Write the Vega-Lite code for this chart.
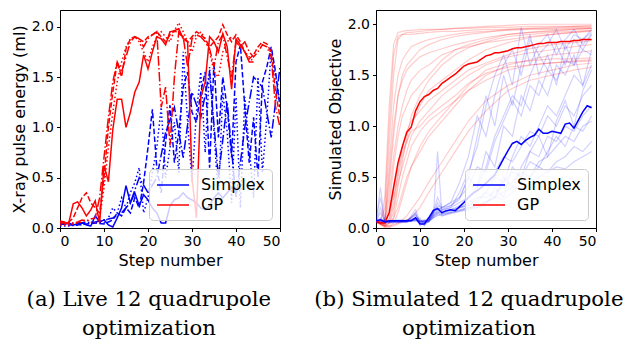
{
"$schema":"https://vega.github.io/schema/vega-lite/v6.json",
"padding":{"left":10,"top":9,"right":5,"bottom":0},
"spacing":32,
"config":{
"view":{"stroke":"#000","strokeWidth":1},
"axis":{"labelFont":"DejaVu Sans","titleFont":"DejaVu Sans","labelFontSize":14,"titleFontSize":16,"titleFontWeight":"normal","labelColor":"#000","titleColor":"#000","tickColor":"#000","domainColor":"#000","grid":false,"tickSize":3.5,"labelPadding":3,"titlePadding":4},
"legend":{"orient":"bottom-right","offset":8,"padding":7,"fillColor":"rgba(255,255,255,0.8)","strokeColor":"#cccccc","cornerRadius":4,"symbolType":"M-2,0H2","symbolSize":256,"symbolStrokeWidth":1.5,"symbolOffset":8,"labelFont":"DejaVu Sans","labelFontSize":16,"labelColor":"#000","labelOffset":19,"rowPadding":3},
"title":{"font":"DejaVu Serif","fontSize":21.2,"fontWeight":"normal","color":"#000","lineHeight":29,"orient":"bottom","anchor":"middle","frame":"bounds","offset":20}
},
"resolve":{"scale":{"x":"independent","y":"independent","color":"independent"},"legend":{"color":"independent"}},
"datasets":{
"liveB":[
{"r":"B1","s":0,"v":0.05},{"r":"B1","s":1,"v":0.04},{"r":"B1","s":2,"v":0.05},{"r":"B1","s":3,"v":0.03},{"r":"B1","s":4,"v":0.04},{"r":"B1","s":5,"v":0.05},{"r":"B1","s":6,"v":0.03},{"r":"B1","s":7,"v":0.02},{"r":"B1","s":8,"v":0.12},{"r":"B1","s":9,"v":0.06},{"r":"B1","s":10,"v":0.08},{"r":"B1","s":11,"v":0.03},{"r":"B1","s":12,"v":0.01},{"r":"B1","s":13,"v":0.1},{"r":"B1","s":14,"v":0.2},{"r":"B1","s":15,"v":0.42},{"r":"B1","s":16,"v":0.25},{"r":"B1","s":17,"v":0.35},{"r":"B1","s":18,"v":0.22},{"r":"B1","s":19,"v":0.33},{"r":"B1","s":20,"v":0.28},{"r":"B1","s":21,"v":0.2},{"r":"B1","s":22,"v":0.15},{"r":"B1","s":23,"v":0.05},{"r":"B1","s":24,"v":0.05},{"r":"B1","s":25,"v":0.22},{"r":"B1","s":26,"v":0.28},{"r":"B1","s":27,"v":0.3},{"r":"B1","s":28,"v":0.35},{"r":"B1","s":29,"v":0.3},{"r":"B1","s":30,"v":0.28},{"r":"B1","s":31,"v":0.25},{"r":"B1","s":32,"v":0.2},{"r":"B1","s":33,"v":0.18},{"r":"B1","s":34,"v":0.22},{"r":"B1","s":35,"v":0.3},{"r":"B1","s":36,"v":0.35},{"r":"B1","s":37,"v":0.3},{"r":"B1","s":38,"v":0.35},{"r":"B1","s":39,"v":0.4},{"r":"B1","s":40,"v":0.38},
{"r":"B2","s":0,"v":0.04},{"r":"B2","s":2,"v":0.03},{"r":"B2","s":4,"v":0.03},{"r":"B2","s":6,"v":0.04},{"r":"B2","s":8,"v":0.05},{"r":"B2","s":10,"v":0.04},{"r":"B2","s":11,"v":0.06},{"r":"B2","s":12,"v":0.08},{"r":"B2","s":13,"v":0.15},{"r":"B2","s":14,"v":0.12},{"r":"B2","s":15,"v":0.2},{"r":"B2","s":16,"v":0.15},{"r":"B2","s":17,"v":0.3},{"r":"B2","s":18,"v":0.2},{"r":"B2","s":19,"v":0.45},{"r":"B2","s":20,"v":0.8},{"r":"B2","s":21,"v":1.18},{"r":"B2","s":22,"v":0.6},{"r":"B2","s":23,"v":0.35},{"r":"B2","s":24,"v":0.85},{"r":"B2","s":25,"v":1.22},{"r":"B2","s":26,"v":0.65},{"r":"B2","s":27,"v":0.95},{"r":"B2","s":28,"v":1.4},{"r":"B2","s":29,"v":1.55},{"r":"B2","s":30,"v":1.15},{"r":"B2","s":31,"v":1.05},{"r":"B2","s":32,"v":1.35},{"r":"B2","s":33,"v":1.55},{"r":"B2","s":34,"v":0.6},{"r":"B2","s":35,"v":1.65},{"r":"B2","s":36,"v":0.9},{"r":"B2","s":37,"v":1.5},{"r":"B2","s":38,"v":1.2},{"r":"B2","s":39,"v":0.7},{"r":"B2","s":40,"v":1.65},{"r":"B2","s":41,"v":1.82},{"r":"B2","s":42,"v":1.2},{"r":"B2","s":43,"v":0.65},{"r":"B2","s":44,"v":1.1},{"r":"B2","s":45,"v":0.5},{"r":"B2","s":46,"v":1.45},{"r":"B2","s":47,"v":1.6},{"r":"B2","s":48,"v":1.8},{"r":"B2","s":49,"v":1.55},{"r":"B2","s":50,"v":1.2},
{"r":"B3","s":0,"v":0.02},{"r":"B3","s":2,"v":0.02},{"r":"B3","s":4,"v":0.03},{"r":"B3","s":6,"v":0.04},{"r":"B3","s":8,"v":0.06},{"r":"B3","s":10,"v":0.05},{"r":"B3","s":11,"v":0.1},{"r":"B3","s":12,"v":0.2},{"r":"B3","s":13,"v":0.15},{"r":"B3","s":14,"v":0.3},{"r":"B3","s":15,"v":0.2},{"r":"B3","s":16,"v":0.35},{"r":"B3","s":17,"v":0.45},{"r":"B3","s":18,"v":0.6},{"r":"B3","s":19,"v":0.15},{"r":"B3","s":20,"v":0.3},{"r":"B3","s":21,"v":0.55},{"r":"B3","s":22,"v":0.8},{"r":"B3","s":23,"v":1.2},{"r":"B3","s":24,"v":0.5},{"r":"B3","s":25,"v":0.8},{"r":"B3","s":26,"v":1.05},{"r":"B3","s":27,"v":0.55},{"r":"B3","s":28,"v":1.75},{"r":"B3","s":29,"v":1.05},{"r":"B3","s":30,"v":0.45},{"r":"B3","s":31,"v":1.15},{"r":"B3","s":32,"v":1.55},{"r":"B3","s":33,"v":0.75},{"r":"B3","s":34,"v":1.6},{"r":"B3","s":35,"v":0.95},{"r":"B3","s":36,"v":0.3},{"r":"B3","s":37,"v":1.35},{"r":"B3","s":38,"v":0.95},{"r":"B3","s":39,"v":0.25},{"r":"B3","s":40,"v":1.3},{"r":"B3","s":41,"v":0.2},{"r":"B3","s":42,"v":1.3},{"r":"B3","s":43,"v":0.8},{"r":"B3","s":44,"v":0.3},{"r":"B3","s":45,"v":1.5},{"r":"B3","s":46,"v":0.55},{"r":"B3","s":47,"v":1.1},{"r":"B3","s":48,"v":1.78},{"r":"B3","s":49,"v":1.5},{"r":"B3","s":50,"v":1.25},
{"r":"B4","s":0,"v":0.04},{"r":"B4","s":4,"v":0.05},{"r":"B4","s":8,"v":0.06},{"r":"B4","s":12,"v":0.1},{"r":"B4","s":14,"v":0.15},{"r":"B4","s":16,"v":0.25},{"r":"B4","s":18,"v":0.5},{"r":"B4","s":20,"v":0.35},{"r":"B4","s":22,"v":0.5},{"r":"B4","s":24,"v":0.95},{"r":"B4","s":26,"v":1.2},{"r":"B4","s":28,"v":0.7},{"r":"B4","s":30,"v":1.35},{"r":"B4","s":32,"v":1.1},{"r":"B4","s":34,"v":1.55},{"r":"B4","s":36,"v":0.5},{"r":"B4","s":38,"v":1.25},{"r":"B4","s":40,"v":0.3},{"r":"B4","s":42,"v":1.0},{"r":"B4","s":44,"v":1.5},{"r":"B4","s":46,"v":1.4},{"r":"B4","s":48,"v":0.9},{"r":"B4","s":50,"v":1.6}
],
"liveR":[
{"r":"G1","s":0,"v":0.06},{"r":"G1","s":1,"v":0.05},{"r":"G1","s":2,"v":0.05},{"r":"G1","s":3,"v":0.24},{"r":"G1","s":4,"v":0.26},{"r":"G1","s":5,"v":0.2},{"r":"G1","s":6,"v":0.12},{"r":"G1","s":7,"v":0.18},{"r":"G1","s":8,"v":0.27},{"r":"G1","s":9,"v":0.05},{"r":"G1","s":10,"v":0.62},{"r":"G1","s":11,"v":0.46},{"r":"G1","s":12,"v":0.98},{"r":"G1","s":13,"v":1.28},{"r":"G1","s":14,"v":1.28},{"r":"G1","s":15,"v":1.0},{"r":"G1","s":16,"v":1.15},{"r":"G1","s":17,"v":1.35},{"r":"G1","s":18,"v":1.45},{"r":"G1","s":19,"v":1.72},{"r":"G1","s":20,"v":1.58},{"r":"G1","s":21,"v":1.75},{"r":"G1","s":22,"v":1.9},{"r":"G1","s":23,"v":1.88},{"r":"G1","s":24,"v":1.82},{"r":"G1","s":25,"v":1.95},{"r":"G1","s":26,"v":1.96},{"r":"G1","s":27,"v":1.98},{"r":"G1","s":28,"v":1.88},{"r":"G1","s":29,"v":1.85},{"r":"G1","s":30,"v":0.5},{"r":"G1","s":31,"v":0.1},{"r":"G1","s":32,"v":1.3},{"r":"G1","s":33,"v":1.45},{"r":"G1","s":34,"v":1.9},{"r":"G1","s":35,"v":1.85},{"r":"G1","s":36,"v":1.75},{"r":"G1","s":37,"v":1.93},{"r":"G1","s":38,"v":1.8},{"r":"G1","s":39,"v":1.38},{"r":"G1","s":40,"v":1.88},{"r":"G1","s":41,"v":1.82},{"r":"G1","s":42,"v":1.75},{"r":"G1","s":43,"v":1.65},{"r":"G1","s":44,"v":1.65},
{"r":"G2","s":0,"v":0.07},{"r":"G2","s":1,"v":0.06},{"r":"G2","s":2,"v":0.06},{"r":"G2","s":3,"v":0.1},{"r":"G2","s":4,"v":0.2},{"r":"G2","s":5,"v":0.3},{"r":"G2","s":6,"v":0.35},{"r":"G2","s":7,"v":0.25},{"r":"G2","s":8,"v":0.2},{"r":"G2","s":9,"v":0.15},{"r":"G2","s":10,"v":0.5},{"r":"G2","s":11,"v":1.0},{"r":"G2","s":12,"v":1.35},{"r":"G2","s":13,"v":1.65},{"r":"G2","s":14,"v":1.5},{"r":"G2","s":15,"v":1.78},{"r":"G2","s":16,"v":1.88},{"r":"G2","s":17,"v":1.9},{"r":"G2","s":18,"v":1.88},{"r":"G2","s":19,"v":1.85},{"r":"G2","s":20,"v":1.9},{"r":"G2","s":21,"v":1.92},{"r":"G2","s":22,"v":1.95},{"r":"G2","s":23,"v":1.9},{"r":"G2","s":24,"v":1.85},{"r":"G2","s":25,"v":1.92},{"r":"G2","s":26,"v":1.96},{"r":"G2","s":27,"v":1.93},{"r":"G2","s":28,"v":1.9},{"r":"G2","s":29,"v":1.85},{"r":"G2","s":30,"v":1.9},{"r":"G2","s":31,"v":1.95},{"r":"G2","s":32,"v":1.92},{"r":"G2","s":33,"v":1.88},{"r":"G2","s":34,"v":1.8},{"r":"G2","s":35,"v":1.85},{"r":"G2","s":36,"v":1.9},{"r":"G2","s":37,"v":2.02},{"r":"G2","s":38,"v":1.92},{"r":"G2","s":39,"v":1.85},{"r":"G2","s":40,"v":1.92},{"r":"G2","s":41,"v":1.85},{"r":"G2","s":42,"v":1.75},{"r":"G2","s":43,"v":1.68},{"r":"G2","s":44,"v":1.72},{"r":"G2","s":45,"v":1.8},{"r":"G2","s":46,"v":1.85},{"r":"G2","s":47,"v":1.83},{"r":"G2","s":48,"v":1.75},{"r":"G2","s":49,"v":1.35},{"r":"G2","s":50,"v":1.1},
{"r":"G3","s":0,"v":0.03},{"r":"G3","s":1,"v":0.03},{"r":"G3","s":2,"v":0.03},{"r":"G3","s":3,"v":0.04},{"r":"G3","s":4,"v":0.05},{"r":"G3","s":5,"v":0.06},{"r":"G3","s":6,"v":0.08},{"r":"G3","s":7,"v":0.06},{"r":"G3","s":8,"v":0.05},{"r":"G3","s":9,"v":0.1},{"r":"G3","s":10,"v":0.4},{"r":"G3","s":11,"v":0.8},{"r":"G3","s":12,"v":1.15},{"r":"G3","s":13,"v":1.45},{"r":"G3","s":14,"v":1.65},{"r":"G3","s":15,"v":1.8},{"r":"G3","s":16,"v":1.88},{"r":"G3","s":17,"v":1.9},{"r":"G3","s":18,"v":1.85},{"r":"G3","s":19,"v":1.75},{"r":"G3","s":20,"v":1.65},{"r":"G3","s":21,"v":1.8},{"r":"G3","s":22,"v":1.9},{"r":"G3","s":23,"v":1.95},{"r":"G3","s":24,"v":1.9},{"r":"G3","s":25,"v":1.85},{"r":"G3","s":26,"v":1.96},{"r":"G3","s":27,"v":2.04},{"r":"G3","s":28,"v":1.95},{"r":"G3","s":29,"v":1.85},{"r":"G3","s":30,"v":1.75},{"r":"G3","s":31,"v":1.9},{"r":"G3","s":32,"v":1.95},{"r":"G3","s":33,"v":1.88},{"r":"G3","s":34,"v":1.75},{"r":"G3","s":35,"v":1.55},{"r":"G3","s":36,"v":1.5},{"r":"G3","s":37,"v":1.75},{"r":"G3","s":38,"v":1.85},{"r":"G3","s":39,"v":1.9},{"r":"G3","s":40,"v":1.85},{"r":"G3","s":41,"v":1.8},{"r":"G3","s":42,"v":1.75},{"r":"G3","s":43,"v":1.7},{"r":"G3","s":44,"v":1.65},
{"r":"G4","s":0,"v":0.05},{"r":"G4","s":1,"v":0.05},{"r":"G4","s":2,"v":0.05},{"r":"G4","s":3,"v":0.05},{"r":"G4","s":4,"v":0.06},{"r":"G4","s":5,"v":0.08},{"r":"G4","s":6,"v":0.07},{"r":"G4","s":7,"v":0.09},{"r":"G4","s":8,"v":0.1},{"r":"G4","s":9,"v":0.3},{"r":"G4","s":10,"v":0.7},{"r":"G4","s":11,"v":1.1},{"r":"G4","s":12,"v":1.45},{"r":"G4","s":13,"v":1.65},{"r":"G4","s":14,"v":1.55},{"r":"G4","s":15,"v":1.7},{"r":"G4","s":16,"v":1.85},{"r":"G4","s":17,"v":1.9},{"r":"G4","s":18,"v":1.88},{"r":"G4","s":19,"v":1.8},{"r":"G4","s":20,"v":1.88},{"r":"G4","s":21,"v":1.92},{"r":"G4","s":22,"v":1.95},{"r":"G4","s":23,"v":1.2},{"r":"G4","s":24,"v":1.4},{"r":"G4","s":25,"v":0.82},{"r":"G4","s":26,"v":1.5},{"r":"G4","s":27,"v":1.95},{"r":"G4","s":28,"v":1.9},{"r":"G4","s":29,"v":1.6},{"r":"G4","s":30,"v":1.88},{"r":"G4","s":31,"v":1.92},{"r":"G4","s":32,"v":1.9},{"r":"G4","s":33,"v":1.85},{"r":"G4","s":34,"v":1.78},{"r":"G4","s":35,"v":1.6},{"r":"G4","s":36,"v":1.85},{"r":"G4","s":37,"v":1.92},{"r":"G4","s":38,"v":1.7},{"r":"G4","s":39,"v":1.5},{"r":"G4","s":40,"v":1.85},{"r":"G4","s":41,"v":1.8},{"r":"G4","s":42,"v":1.85},{"r":"G4","s":43,"v":1.75},{"r":"G4","s":44,"v":1.7},{"r":"G4","s":45,"v":1.75},{"r":"G4","s":46,"v":1.82},{"r":"G4","s":47,"v":1.8},{"r":"G4","s":48,"v":1.7},{"r":"G4","s":49,"v":1.2},{"r":"G4","s":50,"v":1.0}
],
"simMB":[
{"s":0,"v":0.07},{"s":1,"v":0.08},{"s":2,"v":0.06},{"s":3,"v":0.07},{"s":4,"v":0.07},{"s":5,"v":0.07},{"s":6,"v":0.07},{"s":7,"v":0.07},{"s":8,"v":0.07},{"s":9,"v":0.1},{"s":10,"v":0.04},{"s":11,"v":0.04},{"s":12,"v":0.1},{"s":13,"v":0.17},{"s":14,"v":0.19},{"s":15,"v":0.15},{"s":16,"v":0.17},{"s":17,"v":0.18},{"s":18,"v":0.17},{"s":19,"v":0.21},{"s":20,"v":0.25},{"s":21,"v":0.3},{"s":22,"v":0.34},{"s":23,"v":0.37},{"s":24,"v":0.4},{"s":25,"v":0.44},{"s":26,"v":0.48},{"s":27,"v":0.52},{"s":28,"v":0.6},{"s":29,"v":0.68},{"s":30,"v":0.76},{"s":31,"v":0.83},{"s":32,"v":0.85},{"s":33,"v":0.82},{"s":34,"v":0.86},{"s":35,"v":0.89},{"s":36,"v":0.91},{"s":37,"v":0.97},{"s":38,"v":0.93},{"s":39,"v":0.93},{"s":40,"v":0.95},{"s":41,"v":0.94},{"s":42,"v":0.93},{"s":43,"v":1.02},{"s":44,"v":1.03},{"s":45,"v":0.98},{"s":46,"v":1.06},{"s":47,"v":1.14},{"s":48,"v":1.2},{"s":49,"v":1.18}
],
"simMR":[
{"s":0,"v":0.07},{"s":1,"v":0.05},{"s":2,"v":0.05},{"s":3,"v":0.15},{"s":4,"v":0.4},{"s":5,"v":0.64},{"s":6,"v":0.8},{"s":7,"v":0.94},{"s":8,"v":0.99},{"s":9,"v":1.15},{"s":10,"v":1.24},{"s":11,"v":1.29},{"s":12,"v":1.31},{"s":13,"v":1.35},{"s":14,"v":1.37},{"s":15,"v":1.42},{"s":16,"v":1.45},{"s":17,"v":1.48},{"s":18,"v":1.51},{"s":19,"v":1.55},{"s":20,"v":1.59},{"s":21,"v":1.61},{"s":22,"v":1.62},{"s":23,"v":1.63},{"s":24,"v":1.66},{"s":25,"v":1.69},{"s":26,"v":1.7},{"s":27,"v":1.72},{"s":28,"v":1.72},{"s":29,"v":1.73},{"s":30,"v":1.74},{"s":31,"v":1.76},{"s":32,"v":1.77},{"s":33,"v":1.77},{"s":34,"v":1.78},{"s":35,"v":1.79},{"s":36,"v":1.8},{"s":37,"v":1.81},{"s":38,"v":1.81},{"s":39,"v":1.82},{"s":40,"v":1.82},{"s":41,"v":1.82},{"s":42,"v":1.83},{"s":43,"v":1.83},{"s":44,"v":1.83},{"s":45,"v":1.84},{"s":46,"v":1.84},{"s":47,"v":1.85},{"s":48,"v":1.85},{"s":49,"v":1.85}
],
"simR":[
{"r":"R1","s":0,"v":0.07},{"r":"R1","s":1,"v":0.05},{"r":"R1","s":2,"v":0.3},{"r":"R1","s":3,"v":1.2},{"r":"R1","s":4,"v":1.8},{"r":"R1","s":5,"v":1.92},{"r":"R1","s":6,"v":1.93},{"r":"R1","s":7,"v":1.94},{"r":"R1","s":8,"v":1.94},{"r":"R1","s":10,"v":1.95},{"r":"R1","s":12,"v":1.95},{"r":"R1","s":15,"v":1.95},{"r":"R1","s":18,"v":1.96},{"r":"R1","s":21,"v":1.96},{"r":"R1","s":25,"v":1.97},{"r":"R1","s":30,"v":1.97},{"r":"R1","s":35,"v":1.98},{"r":"R1","s":40,"v":1.98},{"r":"R1","s":45,"v":1.98},{"r":"R1","s":49,"v":1.98},
{"r":"R2","s":0,"v":0.06},{"r":"R2","s":1,"v":0.04},{"r":"R2","s":2,"v":0.1},{"r":"R2","s":3,"v":0.8},{"r":"R2","s":4,"v":1.5},{"r":"R2","s":5,"v":1.85},{"r":"R2","s":6,"v":1.9},{"r":"R2","s":7,"v":1.9},{"r":"R2","s":8,"v":1.9},{"r":"R2","s":10,"v":1.91},{"r":"R2","s":12,"v":1.92},{"r":"R2","s":15,"v":1.93},{"r":"R2","s":18,"v":1.93},{"r":"R2","s":21,"v":1.94},{"r":"R2","s":25,"v":1.95},{"r":"R2","s":30,"v":1.95},{"r":"R2","s":35,"v":1.96},{"r":"R2","s":40,"v":1.96},{"r":"R2","s":45,"v":1.97},{"r":"R2","s":49,"v":1.97},
{"r":"R3","s":0,"v":0.07},{"r":"R3","s":1,"v":0.05},{"r":"R3","s":2,"v":0.05},{"r":"R3","s":3,"v":0.4},{"r":"R3","s":4,"v":0.9},{"r":"R3","s":5,"v":1.3},{"r":"R3","s":6,"v":1.5},{"r":"R3","s":7,"v":1.6},{"r":"R3","s":8,"v":1.65},{"r":"R3","s":10,"v":1.75},{"r":"R3","s":12,"v":1.8},{"r":"R3","s":15,"v":1.85},{"r":"R3","s":18,"v":1.88},{"r":"R3","s":21,"v":1.9},{"r":"R3","s":25,"v":1.92},{"r":"R3","s":30,"v":1.95},{"r":"R3","s":35,"v":1.96},{"r":"R3","s":40,"v":1.97},{"r":"R3","s":45,"v":1.98},{"r":"R3","s":49,"v":1.99},
{"r":"R4","s":0,"v":0.06},{"r":"R4","s":1,"v":0.03},{"r":"R4","s":2,"v":0.02},{"r":"R4","s":3,"v":0.2},{"r":"R4","s":4,"v":0.6},{"r":"R4","s":5,"v":0.9},{"r":"R4","s":6,"v":1.1},{"r":"R4","s":7,"v":1.2},{"r":"R4","s":8,"v":1.3},{"r":"R4","s":10,"v":1.4},{"r":"R4","s":12,"v":1.5},{"r":"R4","s":15,"v":1.65},{"r":"R4","s":18,"v":1.75},{"r":"R4","s":21,"v":1.8},{"r":"R4","s":25,"v":1.85},{"r":"R4","s":30,"v":1.9},{"r":"R4","s":35,"v":1.92},{"r":"R4","s":40,"v":1.94},{"r":"R4","s":45,"v":1.95},{"r":"R4","s":49,"v":1.96},
{"r":"R5","s":0,"v":0.07},{"r":"R5","s":1,"v":0.05},{"r":"R5","s":2,"v":0.08},{"r":"R5","s":3,"v":0.15},{"r":"R5","s":4,"v":0.3},{"r":"R5","s":5,"v":0.5},{"r":"R5","s":6,"v":0.7},{"r":"R5","s":7,"v":0.85},{"r":"R5","s":8,"v":1.0},{"r":"R5","s":10,"v":1.2},{"r":"R5","s":12,"v":1.35},{"r":"R5","s":15,"v":1.45},{"r":"R5","s":18,"v":1.55},{"r":"R5","s":21,"v":1.65},{"r":"R5","s":25,"v":1.75},{"r":"R5","s":30,"v":1.82},{"r":"R5","s":35,"v":1.87},{"r":"R5","s":40,"v":1.9},{"r":"R5","s":45,"v":1.92},{"r":"R5","s":49,"v":1.94},
{"r":"R6","s":0,"v":0.06},{"r":"R6","s":1,"v":0.04},{"r":"R6","s":2,"v":0.0},{"r":"R6","s":3,"v":0.05},{"r":"R6","s":4,"v":0.2},{"r":"R6","s":5,"v":0.45},{"r":"R6","s":6,"v":0.6},{"r":"R6","s":7,"v":0.75},{"r":"R6","s":8,"v":0.9},{"r":"R6","s":10,"v":1.05},{"r":"R6","s":12,"v":1.15},{"r":"R6","s":15,"v":1.3},{"r":"R6","s":18,"v":1.4},{"r":"R6","s":21,"v":1.5},{"r":"R6","s":25,"v":1.6},{"r":"R6","s":30,"v":1.68},{"r":"R6","s":35,"v":1.72},{"r":"R6","s":40,"v":1.75},{"r":"R6","s":45,"v":1.78},{"r":"R6","s":49,"v":1.8},
{"r":"R7","s":0,"v":0.07},{"r":"R7","s":1,"v":0.05},{"r":"R7","s":2,"v":0.03},{"r":"R7","s":3,"v":0.02},{"r":"R7","s":4,"v":0.1},{"r":"R7","s":5,"v":0.3},{"r":"R7","s":6,"v":0.5},{"r":"R7","s":7,"v":0.65},{"r":"R7","s":8,"v":0.8},{"r":"R7","s":10,"v":0.95},{"r":"R7","s":12,"v":1.05},{"r":"R7","s":15,"v":1.15},{"r":"R7","s":18,"v":1.25},{"r":"R7","s":21,"v":1.35},{"r":"R7","s":25,"v":1.45},{"r":"R7","s":30,"v":1.55},{"r":"R7","s":35,"v":1.6},{"r":"R7","s":40,"v":1.62},{"r":"R7","s":45,"v":1.64},{"r":"R7","s":49,"v":1.65},
{"r":"R8","s":0,"v":0.06},{"r":"R8","s":1,"v":0.05},{"r":"R8","s":2,"v":0.01},{"r":"R8","s":3,"v":0.0},{"r":"R8","s":4,"v":0.05},{"r":"R8","s":5,"v":0.15},{"r":"R8","s":6,"v":0.3},{"r":"R8","s":7,"v":0.45},{"r":"R8","s":8,"v":0.6},{"r":"R8","s":10,"v":0.8},{"r":"R8","s":12,"v":0.95},{"r":"R8","s":15,"v":1.1},{"r":"R8","s":18,"v":1.25},{"r":"R8","s":21,"v":1.4},{"r":"R8","s":25,"v":1.55},{"r":"R8","s":30,"v":1.62},{"r":"R8","s":35,"v":1.64},{"r":"R8","s":40,"v":1.66},{"r":"R8","s":45,"v":1.66},{"r":"R8","s":49,"v":1.67},
{"r":"R9","s":0,"v":0.07},{"r":"R9","s":1,"v":0.04},{"r":"R9","s":2,"v":0.05},{"r":"R9","s":3,"v":0.6},{"r":"R9","s":4,"v":1.2},{"r":"R9","s":5,"v":1.5},{"r":"R9","s":6,"v":1.65},{"r":"R9","s":7,"v":1.72},{"r":"R9","s":8,"v":1.78},{"r":"R9","s":10,"v":1.82},{"r":"R9","s":12,"v":1.85},{"r":"R9","s":15,"v":1.88},{"r":"R9","s":18,"v":1.9},{"r":"R9","s":21,"v":1.92},{"r":"R9","s":25,"v":1.93},{"r":"R9","s":30,"v":1.94},{"r":"R9","s":35,"v":1.95},{"r":"R9","s":40,"v":1.95},{"r":"R9","s":45,"v":1.96},{"r":"R9","s":49,"v":1.96},
{"r":"R10","s":0,"v":0.06},{"r":"R10","s":1,"v":0.05},{"r":"R10","s":2,"v":0.04},{"r":"R10","s":3,"v":0.3},{"r":"R10","s":4,"v":0.7},{"r":"R10","s":5,"v":1.0},{"r":"R10","s":6,"v":1.2},{"r":"R10","s":7,"v":1.35},{"r":"R10","s":8,"v":1.45},{"r":"R10","s":10,"v":1.55},{"r":"R10","s":12,"v":1.6},{"r":"R10","s":15,"v":1.7},{"r":"R10","s":18,"v":1.75},{"r":"R10","s":21,"v":1.78},{"r":"R10","s":25,"v":1.82},{"r":"R10","s":30,"v":1.85},{"r":"R10","s":35,"v":1.88},{"r":"R10","s":40,"v":1.9},{"r":"R10","s":45,"v":1.92},{"r":"R10","s":49,"v":1.93},
{"r":"R11","s":0,"v":0.07},{"r":"R11","s":1,"v":0.05},{"r":"R11","s":2,"v":0.02},{"r":"R11","s":3,"v":0.1},{"r":"R11","s":4,"v":0.35},{"r":"R11","s":5,"v":0.6},{"r":"R11","s":6,"v":0.8},{"r":"R11","s":7,"v":0.95},{"r":"R11","s":8,"v":1.05},{"r":"R11","s":10,"v":1.15},{"r":"R11","s":12,"v":1.25},{"r":"R11","s":15,"v":1.35},{"r":"R11","s":18,"v":1.45},{"r":"R11","s":21,"v":1.55},{"r":"R11","s":25,"v":1.62},{"r":"R11","s":30,"v":1.7},{"r":"R11","s":35,"v":1.76},{"r":"R11","s":40,"v":1.8},{"r":"R11","s":45,"v":1.82},{"r":"R11","s":49,"v":1.84},
{"r":"R12","s":0,"v":0.06},{"r":"R12","s":1,"v":0.04},{"r":"R12","s":2,"v":0.03},{"r":"R12","s":3,"v":0.05},{"r":"R12","s":4,"v":0.1},{"r":"R12","s":5,"v":0.2},{"r":"R12","s":6,"v":0.35},{"r":"R12","s":7,"v":0.5},{"r":"R12","s":8,"v":0.6},{"r":"R12","s":10,"v":0.75},{"r":"R12","s":12,"v":0.9},{"r":"R12","s":15,"v":1.05},{"r":"R12","s":18,"v":1.2},{"r":"R12","s":21,"v":1.35},{"r":"R12","s":25,"v":1.5},{"r":"R12","s":30,"v":1.6},{"r":"R12","s":35,"v":1.65},{"r":"R12","s":40,"v":1.7},{"r":"R12","s":45,"v":1.72},{"r":"R12","s":49,"v":1.74},
{"r":"R13","s":0,"v":0.07},{"r":"R13","s":1,"v":0.06},{"r":"R13","s":2,"v":0.2},{"r":"R13","s":3,"v":1.0},{"r":"R13","s":4,"v":1.7},{"r":"R13","s":5,"v":1.88},{"r":"R13","s":6,"v":1.9},{"r":"R13","s":7,"v":1.92},{"r":"R13","s":8,"v":1.92},{"r":"R13","s":10,"v":1.93},{"r":"R13","s":12,"v":1.94},{"r":"R13","s":15,"v":1.95},{"r":"R13","s":18,"v":1.96},{"r":"R13","s":21,"v":1.97},{"r":"R13","s":25,"v":1.98},{"r":"R13","s":30,"v":1.99},{"r":"R13","s":35,"v":2.0},{"r":"R13","s":40,"v":2.0},{"r":"R13","s":45,"v":2.0},{"r":"R13","s":49,"v":2.0},
{"r":"R14","s":0,"v":0.06},{"r":"R14","s":1,"v":0.05},{"r":"R14","s":2,"v":0.06},{"r":"R14","s":3,"v":0.5},{"r":"R14","s":4,"v":1.0},{"r":"R14","s":5,"v":1.3},{"r":"R14","s":6,"v":1.45},{"r":"R14","s":7,"v":1.55},{"r":"R14","s":8,"v":1.6},{"r":"R14","s":10,"v":1.68},{"r":"R14","s":12,"v":1.72},{"r":"R14","s":15,"v":1.76},{"r":"R14","s":18,"v":1.8},{"r":"R14","s":21,"v":1.83},{"r":"R14","s":25,"v":1.87},{"r":"R14","s":30,"v":1.9},{"r":"R14","s":35,"v":1.92},{"r":"R14","s":40,"v":1.93},{"r":"R14","s":45,"v":1.95},{"r":"R14","s":49,"v":1.96},
{"r":"R15","s":0,"v":0.07},{"r":"R15","s":1,"v":0.04},{"r":"R15","s":2,"v":0.02},{"r":"R15","s":3,"v":0.05},{"r":"R15","s":4,"v":0.15},{"r":"R15","s":5,"v":0.4},{"r":"R15","s":6,"v":0.65},{"r":"R15","s":7,"v":0.9},{"r":"R15","s":8,"v":1.1},{"r":"R15","s":10,"v":1.3},{"r":"R15","s":12,"v":1.45},{"r":"R15","s":15,"v":1.6},{"r":"R15","s":18,"v":1.7},{"r":"R15","s":21,"v":1.77},{"r":"R15","s":25,"v":1.83},{"r":"R15","s":30,"v":1.88},{"r":"R15","s":35,"v":1.9},{"r":"R15","s":40,"v":1.92},{"r":"R15","s":45,"v":1.93},{"r":"R15","s":49,"v":1.94},
{"r":"R16","s":0,"v":0.06},{"r":"R16","s":1,"v":0.05},{"r":"R16","s":2,"v":0.04},{"r":"R16","s":3,"v":0.08},{"r":"R16","s":4,"v":0.25},{"r":"R16","s":5,"v":0.55},{"r":"R16","s":6,"v":0.75},{"r":"R16","s":7,"v":0.85},{"r":"R16","s":8,"v":0.95},{"r":"R16","s":10,"v":1.0},{"r":"R16","s":12,"v":1.1},{"r":"R16","s":15,"v":1.2},{"r":"R16","s":18,"v":1.3},{"r":"R16","s":21,"v":1.42},{"r":"R16","s":25,"v":1.52},{"r":"R16","s":30,"v":1.58},{"r":"R16","s":35,"v":1.6},{"r":"R16","s":40,"v":1.62},{"r":"R16","s":45,"v":1.63},{"r":"R16","s":49,"v":1.64},
{"r":"R17","s":0,"v":0.07},{"r":"R17","s":1,"v":0.05},{"r":"R17","s":2,"v":0.02},{"r":"R17","s":3,"v":0.02},{"r":"R17","s":4,"v":0.03},{"r":"R17","s":5,"v":0.05},{"r":"R17","s":6,"v":0.08},{"r":"R17","s":7,"v":0.12},{"r":"R17","s":8,"v":0.18},{"r":"R17","s":10,"v":0.3},{"r":"R17","s":12,"v":0.45},{"r":"R17","s":15,"v":0.65},{"r":"R17","s":18,"v":0.85},{"r":"R17","s":21,"v":1.05},{"r":"R17","s":25,"v":1.25},{"r":"R17","s":30,"v":1.4},{"r":"R17","s":35,"v":1.5},{"r":"R17","s":40,"v":1.55},{"r":"R17","s":45,"v":1.6},{"r":"R17","s":49,"v":1.62},
{"r":"R18","s":0,"v":0.06},{"r":"R18","s":1,"v":0.04},{"r":"R18","s":2,"v":0.02},{"r":"R18","s":3,"v":0.01},{"r":"R18","s":4,"v":0.02},{"r":"R18","s":5,"v":0.04},{"r":"R18","s":6,"v":0.06},{"r":"R18","s":7,"v":0.08},{"r":"R18","s":8,"v":0.1},{"r":"R18","s":10,"v":0.2},{"r":"R18","s":12,"v":0.35},{"r":"R18","s":15,"v":0.55},{"r":"R18","s":18,"v":0.75},{"r":"R18","s":21,"v":0.95},{"r":"R18","s":25,"v":1.15},{"r":"R18","s":30,"v":1.35},{"r":"R18","s":35,"v":1.45},{"r":"R18","s":40,"v":1.5},{"r":"R18","s":45,"v":1.55},{"r":"R18","s":49,"v":1.58}
],
"simB":[
{"r":"B1","s":0,"v":0.07},{"r":"B1","s":1,"v":0.4},{"r":"B1","s":2,"v":0.05},{"r":"B1","s":3,"v":0.06},{"r":"B1","s":5,"v":0.06},{"r":"B1","s":7,"v":0.06},{"r":"B1","s":9,"v":0.18},{"r":"B1","s":10,"v":0.06},{"r":"B1","s":11,"v":0.07},{"r":"B1","s":12,"v":0.07},{"r":"B1","s":13,"v":0.15},{"r":"B1","s":14,"v":0.2},{"r":"B1","s":15,"v":0.18},{"r":"B1","s":17,"v":0.2},{"r":"B1","s":19,"v":0.25},{"r":"B1","s":21,"v":0.3},{"r":"B1","s":23,"v":0.4},{"r":"B1","s":25,"v":0.6},{"r":"B1","s":27,"v":0.9},{"r":"B1","s":29,"v":1.1},{"r":"B1","s":31,"v":1.3},{"r":"B1","s":33,"v":1.2},{"r":"B1","s":35,"v":1.5},{"r":"B1","s":37,"v":1.7},{"r":"B1","s":39,"v":1.55},{"r":"B1","s":41,"v":1.8},{"r":"B1","s":43,"v":1.6},{"r":"B1","s":45,"v":1.85},{"r":"B1","s":47,"v":1.75},{"r":"B1","s":49,"v":1.9},
{"r":"B2","s":0,"v":0.07},{"r":"B2","s":1,"v":0.08},{"r":"B2","s":2,"v":0.06},{"r":"B2","s":3,"v":0.06},{"r":"B2","s":5,"v":0.07},{"r":"B2","s":7,"v":0.07},{"r":"B2","s":9,"v":0.08},{"r":"B2","s":10,"v":0.05},{"r":"B2","s":11,"v":0.07},{"r":"B2","s":12,"v":0.08},{"r":"B2","s":13,"v":0.12},{"r":"B2","s":14,"v":0.15},{"r":"B2","s":15,"v":0.14},{"r":"B2","s":17,"v":0.16},{"r":"B2","s":19,"v":0.2},{"r":"B2","s":21,"v":0.22},{"r":"B2","s":23,"v":0.28},{"r":"B2","s":25,"v":0.35},{"r":"B2","s":27,"v":0.5},{"r":"B2","s":29,"v":0.45},{"r":"B2","s":31,"v":0.7},{"r":"B2","s":33,"v":0.9},{"r":"B2","s":35,"v":0.8},{"r":"B2","s":37,"v":1.0},{"r":"B2","s":39,"v":1.2},{"r":"B2","s":41,"v":1.1},{"r":"B2","s":43,"v":1.3},{"r":"B2","s":45,"v":1.5},{"r":"B2","s":47,"v":1.4},{"r":"B2","s":49,"v":1.6},
{"r":"B3","s":0,"v":0.06},{"r":"B3","s":1,"v":0.2},{"r":"B3","s":2,"v":0.07},{"r":"B3","s":3,"v":0.07},{"r":"B3","s":5,"v":0.07},{"r":"B3","s":7,"v":0.06},{"r":"B3","s":9,"v":0.1},{"r":"B3","s":10,"v":0.02},{"r":"B3","s":11,"v":0.05},{"r":"B3","s":12,"v":0.06},{"r":"B3","s":13,"v":0.1},{"r":"B3","s":14,"v":0.75},{"r":"B3","s":15,"v":0.12},{"r":"B3","s":17,"v":0.15},{"r":"B3","s":19,"v":0.18},{"r":"B3","s":21,"v":0.2},{"r":"B3","s":23,"v":0.22},{"r":"B3","s":25,"v":0.25},{"r":"B3","s":27,"v":0.3},{"r":"B3","s":29,"v":0.5},{"r":"B3","s":31,"v":0.4},{"r":"B3","s":33,"v":0.6},{"r":"B3","s":35,"v":0.75},{"r":"B3","s":37,"v":0.7},{"r":"B3","s":39,"v":0.9},{"r":"B3","s":41,"v":0.85},{"r":"B3","s":43,"v":1.0},{"r":"B3","s":45,"v":0.95},{"r":"B3","s":47,"v":1.1},{"r":"B3","s":49,"v":1.2},
{"r":"B4","s":0,"v":0.07},{"r":"B4","s":1,"v":0.06},{"r":"B4","s":2,"v":0.07},{"r":"B4","s":3,"v":0.07},{"r":"B4","s":5,"v":0.08},{"r":"B4","s":7,"v":0.08},{"r":"B4","s":9,"v":0.09},{"r":"B4","s":10,"v":0.1},{"r":"B4","s":11,"v":0.02},{"r":"B4","s":12,"v":0.07},{"r":"B4","s":13,"v":0.18},{"r":"B4","s":14,"v":0.2},{"r":"B4","s":15,"v":0.17},{"r":"B4","s":17,"v":0.2},{"r":"B4","s":19,"v":0.35},{"r":"B4","s":21,"v":0.55},{"r":"B4","s":23,"v":0.8},{"r":"B4","s":25,"v":1.2},{"r":"B4","s":27,"v":1.5},{"r":"B4","s":29,"v":1.7},{"r":"B4","s":31,"v":1.4},{"r":"B4","s":33,"v":1.97},{"r":"B4","s":35,"v":1.6},{"r":"B4","s":37,"v":1.8},{"r":"B4","s":39,"v":1.9},{"r":"B4","s":41,"v":1.7},{"r":"B4","s":43,"v":1.85},{"r":"B4","s":45,"v":1.95},{"r":"B4","s":47,"v":1.8},{"r":"B4","s":49,"v":1.9},
{"r":"B5","s":0,"v":0.05},{"r":"B5","s":1,"v":0.05},{"r":"B5","s":2,"v":0.05},{"r":"B5","s":3,"v":0.05},{"r":"B5","s":5,"v":0.05},{"r":"B5","s":7,"v":0.06},{"r":"B5","s":9,"v":0.07},{"r":"B5","s":10,"v":0.07},{"r":"B5","s":11,"v":0.07},{"r":"B5","s":12,"v":0.07},{"r":"B5","s":13,"v":0.1},{"r":"B5","s":14,"v":0.12},{"r":"B5","s":15,"v":0.14},{"r":"B5","s":17,"v":0.15},{"r":"B5","s":19,"v":0.17},{"r":"B5","s":21,"v":0.2},{"r":"B5","s":23,"v":0.2},{"r":"B5","s":25,"v":0.25},{"r":"B5","s":27,"v":0.3},{"r":"B5","s":29,"v":0.28},{"r":"B5","s":31,"v":0.35},{"r":"B5","s":33,"v":0.45},{"r":"B5","s":35,"v":0.5},{"r":"B5","s":37,"v":0.6},{"r":"B5","s":39,"v":0.55},{"r":"B5","s":41,"v":0.65},{"r":"B5","s":43,"v":0.7},{"r":"B5","s":45,"v":0.8},{"r":"B5","s":47,"v":0.75},{"r":"B5","s":49,"v":0.85},
{"r":"B6","s":0,"v":0.07},{"r":"B6","s":1,"v":0.1},{"r":"B6","s":2,"v":0.06},{"r":"B6","s":3,"v":0.06},{"r":"B6","s":5,"v":0.07},{"r":"B6","s":7,"v":0.07},{"r":"B6","s":9,"v":0.12},{"r":"B6","s":10,"v":0.06},{"r":"B6","s":11,"v":0.06},{"r":"B6","s":12,"v":0.1},{"r":"B6","s":13,"v":0.15},{"r":"B6","s":14,"v":0.22},{"r":"B6","s":15,"v":0.2},{"r":"B6","s":17,"v":0.25},{"r":"B6","s":19,"v":0.3},{"r":"B6","s":21,"v":0.5},{"r":"B6","s":23,"v":0.4},{"r":"B6","s":25,"v":0.75},{"r":"B6","s":27,"v":0.6},{"r":"B6","s":29,"v":1.0},{"r":"B6","s":31,"v":0.9},{"r":"B6","s":33,"v":1.3},{"r":"B6","s":35,"v":1.15},{"r":"B6","s":37,"v":1.45},{"r":"B6","s":39,"v":1.3},{"r":"B6","s":41,"v":1.6},{"r":"B6","s":43,"v":1.5},{"r":"B6","s":45,"v":1.7},{"r":"B6","s":47,"v":1.4},{"r":"B6","s":49,"v":1.75},
{"r":"B7","s":0,"v":0.06},{"r":"B7","s":1,"v":0.06},{"r":"B7","s":2,"v":0.06},{"r":"B7","s":3,"v":0.06},{"r":"B7","s":5,"v":0.06},{"r":"B7","s":7,"v":0.07},{"r":"B7","s":9,"v":0.07},{"r":"B7","s":10,"v":0.07},{"r":"B7","s":11,"v":0.08},{"r":"B7","s":12,"v":0.08},{"r":"B7","s":13,"v":0.12},{"r":"B7","s":14,"v":0.15},{"r":"B7","s":15,"v":0.15},{"r":"B7","s":17,"v":0.18},{"r":"B7","s":19,"v":0.2},{"r":"B7","s":21,"v":0.25},{"r":"B7","s":23,"v":0.3},{"r":"B7","s":25,"v":0.3},{"r":"B7","s":27,"v":0.35},{"r":"B7","s":29,"v":0.4},{"r":"B7","s":31,"v":0.45},{"r":"B7","s":33,"v":0.55},{"r":"B7","s":35,"v":0.5},{"r":"B7","s":37,"v":0.65},{"r":"B7","s":39,"v":0.7},{"r":"B7","s":41,"v":0.8},{"r":"B7","s":43,"v":0.9},{"r":"B7","s":45,"v":0.85},{"r":"B7","s":47,"v":1.0},{"r":"B7","s":49,"v":1.05},
{"r":"B8","s":0,"v":0.07},{"r":"B8","s":1,"v":0.3},{"r":"B8","s":2,"v":0.06},{"r":"B8","s":3,"v":0.07},{"r":"B8","s":5,"v":0.06},{"r":"B8","s":7,"v":0.07},{"r":"B8","s":9,"v":0.15},{"r":"B8","s":10,"v":0.05},{"r":"B8","s":11,"v":0.03},{"r":"B8","s":12,"v":0.1},{"r":"B8","s":13,"v":0.15},{"r":"B8","s":14,"v":0.18},{"r":"B8","s":15,"v":0.2},{"r":"B8","s":17,"v":0.22},{"r":"B8","s":19,"v":0.28},{"r":"B8","s":21,"v":0.5},{"r":"B8","s":23,"v":0.9},{"r":"B8","s":25,"v":1.3},{"r":"B8","s":27,"v":1.0},{"r":"B8","s":29,"v":1.5},{"r":"B8","s":31,"v":1.2},{"r":"B8","s":33,"v":1.6},{"r":"B8","s":35,"v":1.9},{"r":"B8","s":37,"v":1.5},{"r":"B8","s":39,"v":1.7},{"r":"B8","s":41,"v":1.4},{"r":"B8","s":43,"v":1.8},{"r":"B8","s":45,"v":1.6},{"r":"B8","s":47,"v":1.85},{"r":"B8","s":49,"v":1.95},
{"r":"B9","s":0,"v":0.07},{"r":"B9","s":1,"v":0.07},{"r":"B9","s":2,"v":0.07},{"r":"B9","s":3,"v":0.07},{"r":"B9","s":5,"v":0.07},{"r":"B9","s":7,"v":0.07},{"r":"B9","s":9,"v":0.08},{"r":"B9","s":10,"v":0.06},{"r":"B9","s":11,"v":0.07},{"r":"B9","s":12,"v":0.07},{"r":"B9","s":13,"v":0.13},{"r":"B9","s":14,"v":0.17},{"r":"B9","s":15,"v":0.16},{"r":"B9","s":17,"v":0.18},{"r":"B9","s":19,"v":0.22},{"r":"B9","s":21,"v":0.3},{"r":"B9","s":23,"v":0.35},{"r":"B9","s":25,"v":0.45},{"r":"B9","s":27,"v":0.55},{"r":"B9","s":29,"v":0.7},{"r":"B9","s":31,"v":0.65},{"r":"B9","s":33,"v":0.8},{"r":"B9","s":35,"v":0.95},{"r":"B9","s":37,"v":0.9},{"r":"B9","s":39,"v":1.1},{"r":"B9","s":41,"v":1.0},{"r":"B9","s":43,"v":1.2},{"r":"B9","s":45,"v":1.1},{"r":"B9","s":47,"v":1.3},{"r":"B9","s":49,"v":1.4},
{"r":"B10","s":0,"v":0.06},{"r":"B10","s":1,"v":0.05},{"r":"B10","s":2,"v":0.06},{"r":"B10","s":3,"v":0.06},{"r":"B10","s":5,"v":0.06},{"r":"B10","s":7,"v":0.06},{"r":"B10","s":9,"v":0.1},{"r":"B10","s":10,"v":0.08},{"r":"B10","s":11,"v":0.05},{"r":"B10","s":12,"v":0.06},{"r":"B10","s":13,"v":0.14},{"r":"B10","s":14,"v":0.16},{"r":"B10","s":15,"v":0.15},{"r":"B10","s":17,"v":0.17},{"r":"B10","s":19,"v":0.2},{"r":"B10","s":21,"v":0.22},{"r":"B10","s":23,"v":0.25},{"r":"B10","s":25,"v":0.35},{"r":"B10","s":27,"v":0.3},{"r":"B10","s":29,"v":0.45},{"r":"B10","s":31,"v":0.55},{"r":"B10","s":33,"v":0.5},{"r":"B10","s":35,"v":0.65},{"r":"B10","s":37,"v":0.6},{"r":"B10","s":39,"v":0.75},{"r":"B10","s":41,"v":0.9},{"r":"B10","s":43,"v":0.8},{"r":"B10","s":45,"v":1.0},{"r":"B10","s":47,"v":0.95},{"r":"B10","s":49,"v":1.1},
{"r":"B11","s":0,"v":0.07},{"r":"B11","s":1,"v":0.15},{"r":"B11","s":2,"v":0.07},{"r":"B11","s":3,"v":0.07},{"r":"B11","s":5,"v":0.07},{"r":"B11","s":7,"v":0.07},{"r":"B11","s":9,"v":0.13},{"r":"B11","s":10,"v":0.07},{"r":"B11","s":11,"v":0.07},{"r":"B11","s":12,"v":0.07},{"r":"B11","s":13,"v":0.16},{"r":"B11","s":14,"v":0.3},{"r":"B11","s":15,"v":0.2},{"r":"B11","s":17,"v":0.25},{"r":"B11","s":19,"v":0.45},{"r":"B11","s":21,"v":0.7},{"r":"B11","s":23,"v":1.1},{"r":"B11","s":25,"v":0.9},{"r":"B11","s":27,"v":1.3},{"r":"B11","s":29,"v":1.6},{"r":"B11","s":31,"v":1.75},{"r":"B11","s":33,"v":1.5},{"r":"B11","s":35,"v":1.85},{"r":"B11","s":37,"v":1.7},{"r":"B11","s":39,"v":1.8},{"r":"B11","s":41,"v":1.95},{"r":"B11","s":43,"v":1.75},{"r":"B11","s":45,"v":1.9},{"r":"B11","s":47,"v":1.85},{"r":"B11","s":49,"v":1.92},
{"r":"B12","s":0,"v":0.06},{"r":"B12","s":1,"v":0.06},{"r":"B12","s":2,"v":0.06},{"r":"B12","s":3,"v":0.06},{"r":"B12","s":5,"v":0.06},{"r":"B12","s":7,"v":0.06},{"r":"B12","s":9,"v":0.09},{"r":"B12","s":10,"v":0.06},{"r":"B12","s":11,"v":0.06},{"r":"B12","s":12,"v":0.07},{"r":"B12","s":13,"v":0.11},{"r":"B12","s":14,"v":0.14},{"r":"B12","s":15,"v":0.13},{"r":"B12","s":17,"v":0.15},{"r":"B12","s":19,"v":0.17},{"r":"B12","s":21,"v":0.19},{"r":"B12","s":23,"v":0.22},{"r":"B12","s":25,"v":0.26},{"r":"B12","s":27,"v":0.3},{"r":"B12","s":29,"v":0.35},{"r":"B12","s":31,"v":0.4},{"r":"B12","s":33,"v":0.38},{"r":"B12","s":35,"v":0.45},{"r":"B12","s":37,"v":0.5},{"r":"B12","s":39,"v":0.55},{"r":"B12","s":41,"v":0.6},{"r":"B12","s":43,"v":0.58},{"r":"B12","s":45,"v":0.65},{"r":"B12","s":47,"v":0.7},{"r":"B12","s":49,"v":0.75},
{"r":"B13","s":0,"v":0.07},{"r":"B13","s":1,"v":0.09},{"r":"B13","s":2,"v":0.07},{"r":"B13","s":3,"v":0.07},{"r":"B13","s":5,"v":0.07},{"r":"B13","s":7,"v":0.07},{"r":"B13","s":9,"v":0.14},{"r":"B13","s":10,"v":0.04},{"r":"B13","s":11,"v":0.06},{"r":"B13","s":12,"v":0.08},{"r":"B13","s":13,"v":0.15},{"r":"B13","s":14,"v":0.25},{"r":"B13","s":15,"v":0.18},{"r":"B13","s":17,"v":0.22},{"r":"B13","s":19,"v":0.3},{"r":"B13","s":21,"v":0.4},{"r":"B13","s":23,"v":0.6},{"r":"B13","s":25,"v":0.55},{"r":"B13","s":27,"v":0.85},{"r":"B13","s":29,"v":1.05},{"r":"B13","s":31,"v":1.25},{"r":"B13","s":33,"v":1.1},{"r":"B13","s":35,"v":1.4},{"r":"B13","s":37,"v":1.3},{"r":"B13","s":39,"v":1.55},{"r":"B13","s":41,"v":1.45},{"r":"B13","s":43,"v":1.65},{"r":"B13","s":45,"v":1.6},{"r":"B13","s":47,"v":1.75},{"r":"B13","s":49,"v":1.7},
{"r":"B14","s":0,"v":0.06},{"r":"B14","s":1,"v":0.06},{"r":"B14","s":2,"v":0.06},{"r":"B14","s":3,"v":0.06},{"r":"B14","s":5,"v":0.06},{"r":"B14","s":7,"v":0.06},{"r":"B14","s":9,"v":0.08},{"r":"B14","s":10,"v":0.06},{"r":"B14","s":11,"v":0.06},{"r":"B14","s":12,"v":0.06},{"r":"B14","s":13,"v":0.1},{"r":"B14","s":14,"v":0.13},{"r":"B14","s":15,"v":0.12},{"r":"B14","s":17,"v":0.14},{"r":"B14","s":19,"v":0.16},{"r":"B14","s":21,"v":0.18},{"r":"B14","s":23,"v":0.2},{"r":"B14","s":25,"v":0.22},{"r":"B14","s":27,"v":0.4},{"r":"B14","s":29,"v":0.3},{"r":"B14","s":31,"v":0.6},{"r":"B14","s":33,"v":0.5},{"r":"B14","s":35,"v":0.75},{"r":"B14","s":37,"v":0.9},{"r":"B14","s":39,"v":0.7},{"r":"B14","s":41,"v":1.05},{"r":"B14","s":43,"v":1.25},{"r":"B14","s":45,"v":1.0},{"r":"B14","s":47,"v":1.35},{"r":"B14","s":49,"v":1.55}
]
},
"hconcat":[
{
"width":220,"height":218,
"title":{"text":["(a) Live 12 quadrupole","optimization"],"dx":3},
"encoding":{
"x":{"field":"s","type":"quantitative","scale":{"domain":[0,50],"nice":false},"axis":{"title":"Step number","values":[0,10,20,30,40,50]}},
"y":{"field":"v","type":"quantitative","scale":{"domain":[0,2.166],"nice":false},"axis":{"title":"X-ray pulse energy (ml)","values":[0,0.5,1,1.5,2],"format":".1f"}}
},
"layer":[
{"data":{"name":"liveB"},"mark":{"type":"line","strokeWidth":1.5,"clip":true},
"encoding":{"detail":{"field":"r"},
"strokeDash":{"field":"r","type":"nominal","scale":{"domain":["B1","B2","B3","B4","G1","G2","G3","G4"],"range":[[1,0],[5.5,2.4],[1.5,2.5],[9.6,2.4,1.5,2.4],[1,0],[5.5,2.4],[1.5,2.5],[9.6,2.4,1.5,2.4]]},"legend":null},
"color":{"datum":"Simplex","type":"nominal","scale":{"domain":["Simplex","GP"],"range":["#0000ff","#ff0000"]},"legend":{"title":null}}}},
{"data":{"name":"liveR"},"mark":{"type":"line","strokeWidth":1.5,"clip":true},
"encoding":{"detail":{"field":"r"},
"strokeDash":{"field":"r","type":"nominal","scale":{"domain":["B1","B2","B3","B4","G1","G2","G3","G4"],"range":[[1,0],[5.5,2.4],[1.5,2.5],[9.6,2.4,1.5,2.4],[1,0],[5.5,2.4],[1.5,2.5],[9.6,2.4,1.5,2.4]]},"legend":null},
"color":{"datum":"GP","type":"nominal","scale":{"domain":["Simplex","GP"],"range":["#0000ff","#ff0000"]},"legend":{"title":null}}}}
]
},
{
"width":220,"height":218,
"title":{"text":["(b) Simulated 12 quadrupole","optimization"],"dx":7},
"encoding":{
"x":{"field":"s","type":"quantitative","scale":{"domain":[0,50],"nice":false},"axis":{"title":"Step number","values":[0,10,20,30,40,50]}},
"y":{"field":"v","type":"quantitative","scale":{"domain":[0,2.14],"nice":false},"axis":{"title":"Simulated Objective","values":[0,0.5,1,1.5,2],"format":".1f"}}
},
"layer":[
{"data":{"name":"simR"},"mark":{"type":"line","strokeWidth":1.2,"opacity":0.2,"color":"#ff0000","clip":true},"encoding":{"detail":{"field":"r"}}},
{"data":{"name":"simB"},"mark":{"type":"line","strokeWidth":1.2,"opacity":0.18,"color":"#0000ff","clip":true},"encoding":{"detail":{"field":"r"}}},
{"data":{"name":"simMR"},"mark":{"type":"line","strokeWidth":1.5,"clip":true},
"encoding":{"color":{"datum":"GP","type":"nominal","scale":{"domain":["Simplex","GP"],"range":["#0000ff","#ff0000"]},"legend":{"title":null}}}},
{"data":{"name":"simMB"},"mark":{"type":"line","strokeWidth":1.5,"clip":true},
"encoding":{"color":{"datum":"Simplex","type":"nominal","scale":{"domain":["Simplex","GP"],"range":["#0000ff","#ff0000"]},"legend":{"title":null}}}}
]
}
]
}
